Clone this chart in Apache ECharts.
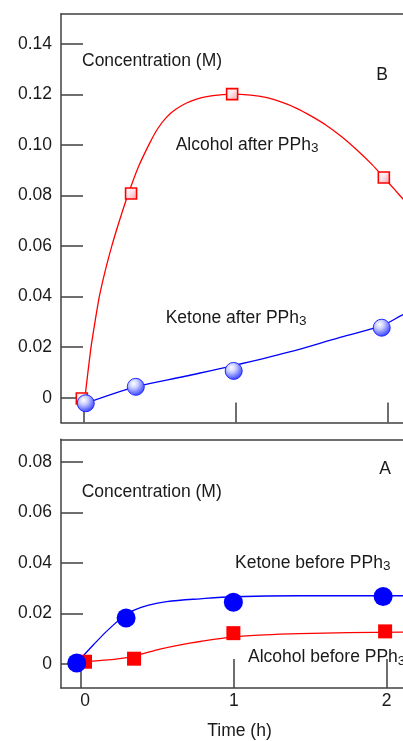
<!DOCTYPE html>
<html>
<head>
<meta charset="utf-8">
<script src="https://cdn.jsdelivr.net/npm/echarts@6/dist/echarts.min.js"></script>
<style>
html,body{margin:0;padding:0;background:#fff;}
#chart{width:403px;height:741px;}
</style>
</head>
<body>
<div id="chart"></div>
<script>
// ---- tick labels ----
const xTicks = [0, 1, 2];
const yTicksB = [0, 0.02, 0.04, 0.06, 0.08, 0.10, 0.12, 0.14];
const yTicksA = [0, 0.02, 0.04, 0.06, 0.08];

// ---- Panel B (after PPh3): measured points ----
const alcAfterT = [-0.01, 0.314, 0.979, 1.977];
const alcAfterC = [-0.0003, 0.0808, 0.1201, 0.0871];
const ketAfterT = [0.016, 0.345, 0.989, 1.963];
const ketAfterC = [-0.0022, 0.0043, 0.0106, 0.0277];
// ---- Panel B: fitted curves ----
const alcAfterFitT = [0.005, 0.011, 0.03, 0.051, 0.078, 0.105, 0.145, 0.187, 0.24, 0.292, 0.36, 0.439, 0.49, 0.548, 0.61, 0.679, 0.745, 0.812, 0.9, 0.98, 1.1, 1.2, 1.3, 1.4, 1.5, 1.6, 1.7, 1.8, 1.9, 1.977, 2.05, 2.1, 2.25];
const alcAfterFitC = [-0.0025, 0.0004, 0.0100, 0.0202, 0.0305, 0.0400, 0.0505, 0.0600, 0.0705, 0.0800, 0.0910, 0.1010, 0.1065, 0.1110, 0.1142, 0.1166, 0.1181, 0.1191, 0.1198, 0.1201, 0.1197, 0.1188, 0.1170, 0.1146, 0.1114, 0.1077, 0.1032, 0.0980, 0.0922, 0.0871, 0.0822, 0.0788, 0.0685];
const ketAfterFitT = [0.016, 0.345, 0.67, 0.989, 1.35, 1.689, 1.963, 2.1, 2.25];
const ketAfterFitC = [-0.0022, 0.0043, 0.0085, 0.0127, 0.018, 0.0239, 0.0285, 0.0328, 0.037];

// ---- Panel A (before PPh3): measured points ----
const ketBeforeT = [-0.028, 0.295, 0.997, 1.977];
const ketBeforeC = [0.0004, 0.0182, 0.0244, 0.0267];
const alcBeforeT = [0.026, 0.347, 0.997, 1.99];
const alcBeforeC = [0.0009, 0.0021, 0.0122, 0.0129];
// ---- Panel A: fitted curves ----
const ketBeforeFitT = [-0.028, 0.08, 0.179, 0.31, 0.45, 0.56, 0.78, 1.0, 1.43, 2.25];
const ketBeforeFitC = [0.0004, 0.0075, 0.0136, 0.0202, 0.0234, 0.0247, 0.0258, 0.0266, 0.027, 0.027];
const alcBeforeFitT = [0.026, 0.18, 0.3, 0.4, 0.517, 0.65, 0.78, 1.0, 1.2, 1.43, 1.75, 2.09, 2.25];
const alcBeforeFitC = [0.0009, 0.0016, 0.0025, 0.0040, 0.0059, 0.0076, 0.0089, 0.0107, 0.0115, 0.0120, 0.0124, 0.0126, 0.0126];

// ---- texts ----
const yTitle = 'Concentration (M)';
const xTitle = 'Time (h)';
const panelB = 'B';
const panelA = 'A';
const lblAlcAfter = ['Alcohol after PPh', '3'];
const lblKetAfter = ['Ketone after PPh', '3'];
const lblKetBefore = ['Ketone before PPh', '3'];
const lblAlcBefore = ['Alcohol before PPh', '3'];

const zip = (a, b) => a.map((v, i) => [v, b[i]]);
const FONT = "'Liberation Sans', Arial, sans-serif";
const AX = '#404040';
const TXT = '#1a1a1a';
const RED = '#ff0000';
const BLUE = '#0000ff';
const fmt = v => (Math.abs(v) < 1e-9 ? '0' : v.toFixed(2));

const chart = echarts.init(document.getElementById('chart'), null, {renderer: 'canvas'});

function xAxisCfg(grid, min, max, tickLen, showLabels) {
  return {
    type: 'value', gridIndex: grid, min: min, max: max, position: 'bottom',
    axisLine: {show: true, onZero: false, lineStyle: {color: AX, width: 1.5}},
    axisTick: {show: true, inside: true, length: tickLen, customValues: xTicks, lineStyle: {color: AX, width: 1.5}},
    axisLabel: {
      show: showLabels, customValues: xTicks, margin: 4, fontSize: 17.5, color: TXT, fontFamily: FONT,
      formatter: v => (Math.abs(v) < 1e-9 ? '{z|0}' : String(v)),
      rich: {z: {fontSize: 17.5, color: TXT, fontFamily: FONT, padding: [0, 0, 0, 8]}}
    },
    splitLine: {show: false},
    name: showLabels ? xTitle : '',
    nameLocation: 'middle', nameGap: 34,
    nameTextStyle: {fontSize: 17.5, color: TXT, fontFamily: FONT, padding: [0, 0, 0, 15]}
  };
}
function topLineCfg(grid, min, max) {
  return {
    type: 'value', gridIndex: grid, min: min, max: max, position: 'top',
    axisLine: {show: true, onZero: false, lineStyle: {color: AX, width: 1.5}},
    axisTick: {show: false}, axisLabel: {show: false}, splitLine: {show: false}
  };
}
function yAxisCfg(grid, min, max, ticks) {
  return {
    type: 'value', gridIndex: grid, min: min, max: max,
    axisLine: {show: true, onZero: false, lineStyle: {color: AX, width: 1.5}},
    axisTick: {show: true, inside: true, length: 22, customValues: ticks, lineStyle: {color: AX, width: 1.5}},
    axisLabel: {show: true, customValues: ticks, formatter: fmt, margin: 9, fontSize: 17.5, color: TXT, fontFamily: FONT},
    splitLine: {show: false}
  };
}

const sphere = {
  type: 'radial', x: 0.38, y: 0.32, r: 0.72,
  colorStops: [{offset: 0, color: '#ffffff'}, {offset: 0.35, color: '#c9cdff'}, {offset: 1, color: '#2a35ff'}]
};
const pinkSq = {
  type: 'linear', x: 0, y: 0, x2: 1, y2: 1,
  colorStops: [{offset: 0, color: '#ffffff'}, {offset: 0.45, color: '#fde6ea'}, {offset: 1, color: '#f49aa6'}]
};

function sub(parts, x, y) {
  return {
    type: 'text', x: x, y: y, z: 10,
    style: {
      text: '{m|' + parts[0] + '}{s|' + parts[1] + '}',
      textVerticalAlign: 'middle', textAlign: 'left',
      rich: {
        m: {fontSize: 17.5, fontFamily: FONT, fill: TXT, color: TXT, lineHeight: 22},
        s: {fontSize: 13.5, fontFamily: FONT, fill: TXT, color: TXT, lineHeight: 22, padding: [7, 0, 0, 0]}
      }
    }
  };
}
function plain(t, x, y, align) {
  return {
    type: 'text', x: x, y: y, z: 10,
    style: {text: t, font: '17.5px ' + FONT, fill: TXT, textAlign: align || 'left', textVerticalAlign: 'middle'}
  };
}

// x ranges chosen so the plot runs to the right edge of the picture (cut-off frame)
const xMinB = -0.147, xMaxB = 2.103;
const xMinA = -0.131, xMaxA = 2.107;

const option = {
  animation: false,
  backgroundColor: '#ffffff',
  grid: [
    {left: 61, top: 14, right: 0, height: 408.5, show: false},
    {left: 61, top: 439.3, right: 0, height: 249, show: false}
  ],
  xAxis: [
    xAxisCfg(0, xMinB, xMaxB, 20, false),
    xAxisCfg(1, xMinA, xMaxA, 29, true),
    topLineCfg(0, xMinB, xMaxB),
    topLineCfg(1, xMinA, xMaxA)
  ],
  yAxis: [
    yAxisCfg(0, -0.0098, 0.1518, yTicksB),
    yAxisCfg(1, -0.0095, 0.0889, yTicksA)
  ],
  series: [
    {type: 'line', xAxisIndex: 0, yAxisIndex: 0, data: zip(alcAfterFitT, alcAfterFitC), smooth: 0.2, showSymbol: false, lineStyle: {color: RED, width: 1.3}, z: 2},
    {type: 'line', xAxisIndex: 0, yAxisIndex: 0, data: zip(ketAfterFitT, ketAfterFitC), smooth: 0.35, showSymbol: false, lineStyle: {color: BLUE, width: 1.3}, z: 2},
    {type: 'scatter', xAxisIndex: 0, yAxisIndex: 0, data: zip(alcAfterT, alcAfterC), symbol: 'rect', symbolSize: 11, itemStyle: {color: pinkSq, borderColor: RED, borderWidth: 1.6, opacity: 1}, z: 3},
    {type: 'scatter', xAxisIndex: 0, yAxisIndex: 0, data: zip(ketAfterT, ketAfterC), symbol: 'circle', symbolSize: 17, itemStyle: {color: sphere, borderColor: '#1f2bff', borderWidth: 1, opacity: 1}, z: 4},

    {type: 'line', xAxisIndex: 1, yAxisIndex: 1, data: zip(alcBeforeFitT, alcBeforeFitC), smooth: 0.3, showSymbol: false, lineStyle: {color: RED, width: 1.3}, z: 2},
    {type: 'line', xAxisIndex: 1, yAxisIndex: 1, data: zip(ketBeforeFitT, ketBeforeFitC), smooth: 0.35, showSymbol: false, lineStyle: {color: BLUE, width: 1.3}, z: 2},
    {type: 'scatter', xAxisIndex: 1, yAxisIndex: 1, data: zip(alcBeforeT, alcBeforeC), symbol: 'rect', symbolSize: 14, itemStyle: {color: RED, opacity: 1}, z: 3},
    {type: 'scatter', xAxisIndex: 1, yAxisIndex: 1, data: zip(ketBeforeT, ketBeforeC), symbol: 'circle', symbolSize: 19, itemStyle: {color: BLUE, opacity: 1}, z: 4}
  ],
  graphic: [
    plain(yTitle, 82, 61),
    plain(panelB, 382, 75, 'center'),
    sub(lblAlcAfter, 175.7, 145),
    sub(lblKetAfter, 165.7, 318),
    plain(yTitle, 81.7, 492.3),
    plain(panelA, 385, 469, 'center'),
    sub(lblKetBefore, 235, 563),
    sub(lblAlcBefore, 248, 657.5)
  ]
};
chart.setOption(option);
</script>
</body>
</html>
